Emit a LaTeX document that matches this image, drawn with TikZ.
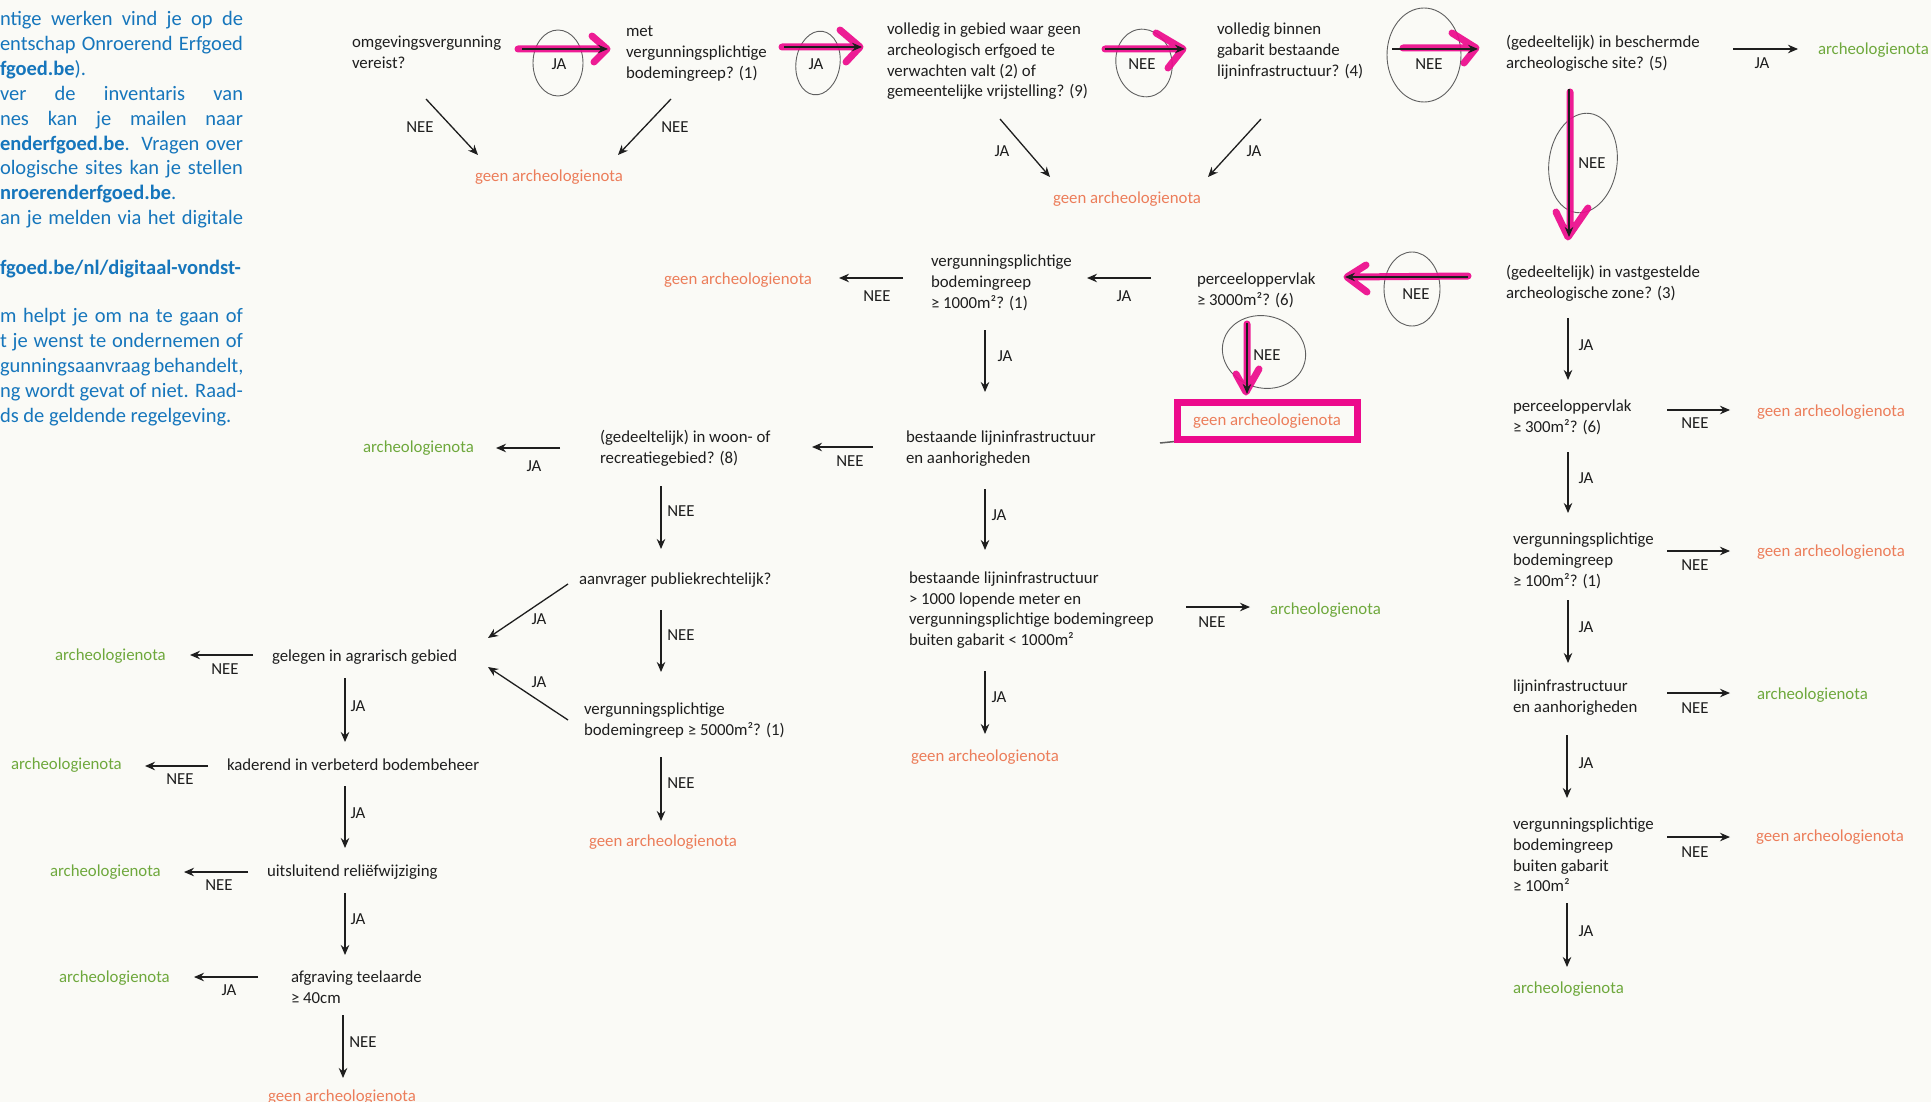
\documentclass[tikz,border=0pt]{standalone}
\usepackage{fontspec}
\setmainfont{Carlito}
\usetikzlibrary{arrows.meta}
\definecolor{paper}{RGB}{250,250,246}
\definecolor{orng}{RGB}{236,125,90}
\definecolor{grn}{RGB}{110,168,60}
\definecolor{blu}{RGB}{22,118,188}
\definecolor{pnk}{RGB}{236,10,140}
\definecolor{pencil}{RGB}{95,95,95}
\definecolor{ink}{RGB}{30,30,30}
\begin{document}
\begin{tikzpicture}[x=1pt,y=-1pt,
  every node/.style={inner sep=0pt,outer sep=0pt,font=\fontsize{16.8}{20.8}\selectfont,text=ink},
  q/.style={anchor=base west,align=left},
  yes/.style={anchor=base west,text=grn},
  no/.style={anchor=base west,text=orng},
  noc/.style={anchor=base,text=orng},
  lbl/.style={anchor=center},
  bl/.style={anchor=base west,text=blu,font=\fontsize{20.5}{25}\selectfont},
  arr/.style={draw=ink,line width=1.3pt,-{Stealth[length=10pt,width=8.5pt]}},
  hl/.style={draw=pnk,line width=7pt,line cap=round,line join=round,opacity=0.92},
  pen/.style={draw=pencil,line width=0.9pt},
  pbox/.style={draw=pnk,line width=7pt,text=orng,anchor=center,minimum width=180pt,minimum height=37pt}
]
\useasboundingbox (0,0) rectangle (1931,1102);
\fill[paper] (0,0) rectangle (1931,1102);
\clip (0,0) rectangle (1931,1102);

% blue side text
\node[bl] (b1) at (0,25.5) {\makebox[243pt][s]{ntige werken vind je op de}};
\node[bl] (b2) at (0,50.5) {\makebox[243pt][s]{entschap Onroerend Erfgoed}};
\node[bl] (b3) at (0,75.5) {\textbf{fgoed.be}).};
\node[bl] (b4) at (0,100.5) {\makebox[243pt][s]{ver de inventaris van}};
\node[bl] (b5) at (0,125.5) {\makebox[243pt][s]{nes kan je mailen naar}};
\node[bl] (b6) at (0,150.5) {\makebox[243pt][s]{\textbf{enderfgoed.be}. Vragen over}};
\node[bl] (b7) at (0,174.5) {\makebox[243pt][s]{ologische sites kan je stellen}};
\node[bl] (b8) at (0,199.5) {\textbf{nroerenderfgoed.be}.};
\node[bl] (b9) at (0,224.5) {\makebox[243pt][s]{an je melden via het digitale}};
\node[bl] (b10) at (0,274.5) {\textbf{fgoed.be/nl/digitaal-vondst-}};
\node[bl] (b11) at (0,322.5) {\makebox[243pt][s]{m helpt je om na te gaan of}};
\node[bl] (b12) at (0,347.5) {\makebox[243pt][s]{t je wenst te ondernemen of}};
\node[bl] (b13) at (0,372.5) {\makebox[243pt][s]{gunningsaanvraag behandelt,}};
\node[bl] (b14) at (0,397.5) {\makebox[243pt][s]{ng wordt gevat of niet. Raad-}};
\node[bl] (b15) at (0,422.5) {ds de geldende regelgeving.};

% pencil circles
\draw[pen] (558,63) ellipse [x radius=25pt,y radius=33pt];
\draw[pen,rotate around={-8:(818,63)}] (818,63) ellipse [x radius=22pt,y radius=32pt];
\draw[pen,rotate around={10:(1144,63)}] (1144,63) ellipse [x radius=28pt,y radius=34pt];
\draw[pen] (1424,55) ellipse [x radius=37pt,y radius=47pt];
\draw[pen,rotate around={-8:(1583,163)}] (1583,163) ellipse [x radius=34pt,y radius=50pt];
\draw[pen] (1412,289) ellipse [x radius=28pt,y radius=37pt];
\draw[pen,rotate around={-15:(1264,352)}] (1264,352) ellipse [x radius=42pt,y radius=36pt];

% pink highlighter
\draw[hl] (518,49) -- (604,49) (592,36) -- (607,49) -- (594,62);
\draw[hl] (782,47) -- (858,47) (840,30) -- (860,47) -- (846,62);
\draw[hl] (1105,49) -- (1180,49) (1156,33) -- (1183,49) -- (1168,68);
\draw[hl] (1403,48) -- (1474,48) (1452,33) -- (1476,48) -- (1464,63);
\draw[hl] (1570,92) -- (1570,232) (1556,212) -- (1568,237) -- (1588,208);
\draw[hl] (1468,276) -- (1350,277) (1366,265) -- (1347,277) -- (1367,292);
\draw[hl] (1247,324) -- (1247,390) (1236,374) -- (1246,392) -- (1259,369);
\draw[pen,line width=1.5pt] (1160,443) -- (1180,441);

% text nodes (multi-line nodes: base = baseline of last line)
\node[q] (omg) at (352,68.3) {omgevingsvergunning\\vereist?};
\node[q] (met) at (626,78.1) {met\\vergunningsplichtige\\bodemingreep? (1)};
\node[q] (vol) at (887,96.9) {volledig in gebied waar geen\\archeologisch erfgoed te\\verwachten valt (2) of\\gemeentelijke vrijstelling? (9)};
\node[q] (bin) at (1217,76.1) {volledig binnen\\gabarit bestaande\\lijninfrastructuur? (4)};
\node[q] (site) at (1506,68.3) {(gedeeltelijk) in beschermde\\archeologische site? (5)};
\node[yes] (r1) at (1818,54.5) {archeologienota};
\node[noc] (g1) at (549,181.5) {geen archeologienota};
\node[noc] (g2) at (1127,203.5) {geen archeologienota};
\node[q] (zone) at (1506,298.3) {(gedeeltelijk) in vastgestelde\\archeologische zone? (3)};
\node[q] (p3000) at (1197,305.3) {perceeloppervlak\\≥ 3000m²? (6)};
\node[q] (v1000) at (931,308.1) {vergunningsplichtige\\bodemingreep\\≥ 1000m²? (1)};
\node[noc] (g3) at (738,284.5) {geen archeologienota};
\node[pbox] (g4) at (1267,421) {geen archeologienota};
\node[q] (p300) at (1513,432.3) {perceeloppervlak\\≥ 300m²? (6)};
\node[no] (g5) at (1757,416.5) {geen archeologienota};
\node[q] (v100) at (1513,586.1) {vergunningsplichtige\\bodemingreep\\≥ 100m²? (1)};
\node[no] (g6) at (1757,556.5) {geen archeologienota};
\node[q] (lijn) at (1513,712.3) {lijninfrastructuur\\en aanhorigheden};
\node[yes] (r2) at (1757,699.5) {archeologienota};
\node[q] (vbuit) at (1513,891.9) {vergunningsplichtige\\bodemingreep\\buiten gabarit\\≥ 100m²};
\node[no] (g7) at (1756,841.5) {geen archeologienota};
\node[yes] (r3) at (1513,993.5) {archeologienota};
\node[q] (best) at (906,463.3) {bestaande lijninfrastructuur\\en aanhorigheden};
\node[q] (woon) at (600,463.3) {(gedeeltelijk) in woon- of\\recreatiegebied? (8)};
\node[yes] (r4) at (363,452.5) {archeologienota};
\node[q] (best1000) at (909,645.7) {bestaande lijninfrastructuur\\> 1000 lopende meter en\\vergunningsplichtige bodemingreep\\buiten gabarit < 1000m²};
\node[yes] (r5) at (1270,614.5) {archeologienota};
\node[no] (g8) at (911,761.5) {geen archeologienota};
\node[q] (aanv) at (579,584.5) {aanvrager publiekrechtelijk?};
\node[q] (v5000) at (584,735.3) {vergunningsplichtige\\bodemingreep ≥ 5000m²? (1)};
\node[noc] (g9) at (663,846.5) {geen archeologienota};
\node[q] (agr) at (272,661.5) {gelegen in agrarisch gebied};
\node[yes] (r6) at (55,660.5) {archeologienota};
\node[q] (kad) at (227,770.5) {kaderend in verbeterd bodembeheer};
\node[yes] (r7) at (11,769.5) {archeologienota};
\node[q] (uits) at (267,876.5) {uitsluitend reliëfwijziging};
\node[yes] (r8) at (50,876.5) {archeologienota};
\node[q] (afgr) at (291,1003.3) {afgraving teelaarde\\≥ 40cm};
\node[yes] (r9) at (59,982.5) {archeologienota};
\node[noc] (g10) at (342,1101.5) {geen archeologienota};

% connectors
\foreach \n/\xa/\ya/\xb/\yb in {
 a1/522/49/608/49, a2/784/47/862/47, a3/1105/49/1185/49, a4/1392/49/1478/49, a5/1733/49/1798/49,
 d1/426/99/478/155, d2/671/99/618/155, d3/1000/119/1050/177, d4/1261/119/1208/177,
 v1/1569/89/1569/237,
 a6/1468/277/1345/277, a7/1151/278/1087/278, a8/903/278/839/278,
 v2/1247/323/1247/394, v3/985/330/985/392,
 a9/873/447/812/447, a10/560/448/496/448,
 v4/985/489/985/550, a11/1186/607/1250/607, v5/985/671/985/734,
 v6/661/486/661/549, d5/568/584/488/638, v7/661/610/661/672, d6/568/720/488/667, v8/661/757/661/821,
 v9/1568/318/1568/380, a12/1667/410/1730/410, v10/1568/452/1568/513, a13/1667/551/1730/551,
 v11/1568/600/1568/663, a14/1667/693/1730/693, v12/1567/735/1567/798, a15/1667/837/1730/837,
 v13/1567/903/1567/967,
 a16/253/655/190/655, v14/345/678/345/742, a17/208/766/145/766, v15/345/786/345/848,
 a18/248/872/184/872, v16/345/893/345/955, a19/258/977/194/977, v17/343/1015/343/1078}
{
 \coordinate (\n s) at (\xa,\ya);
 \coordinate (\n e) at (\xb,\yb);
 \draw[arr] (\n s) -- (\n e);
}

% labels
\foreach \n/\x/\y/\t in {
 l1/559/64/JA, l2/816/64/JA, l3/1142/64/NEE, l4/1429/64/NEE, l5/1762/63/JA,
 l6/420/127/NEE, l7/675/127/NEE, l8/1002/151/JA, l9/1254/151/JA, l10/1592/163/NEE,
 l11/1416/294/NEE, l12/1124/296/JA, l13/877/296/NEE, l14/1267/355/NEE, l15/1005/356/JA,
 l16/850/461/NEE, l17/534/466/JA, l18/999/515/JA, l19/1212/622/NEE, l20/999/697/JA,
 l21/681/511/NEE, l22/539/619/JA, l23/681/635/NEE, l24/539/682/JA, l25/681/783/NEE,
 l26/1586/345/JA, l27/1695/423/NEE, l28/1586/478/JA, l29/1695/565/NEE, l30/1586/627/JA,
 l31/1695/708/NEE, l32/1586/763/JA, l33/1695/852/NEE, l34/1586/931/JA,
 l35/225/669/NEE, l36/358/706/JA, l37/180/779/NEE, l38/358/813/JA, l39/219/885/NEE,
 l40/358/919/JA, l41/229/990/JA, l42/363/1042/NEE}
{
 \node[lbl] (\n) at (\x,\y) {\t};
}
\end{tikzpicture}
\end{document}
